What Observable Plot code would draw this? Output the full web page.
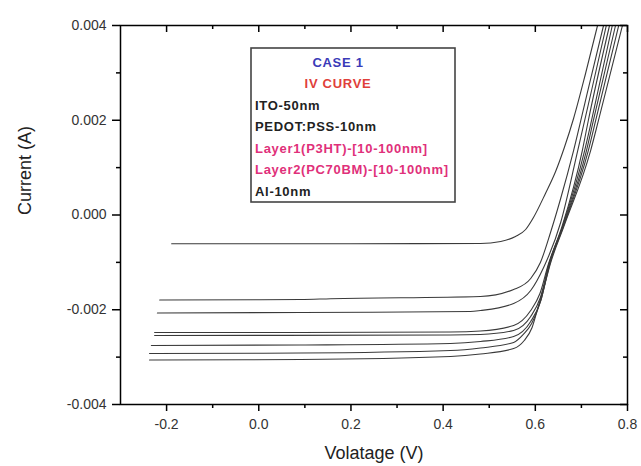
<!DOCTYPE html>
<html><head><meta charset="utf-8">
<script src="https://cdn.jsdelivr.net/npm/d3@7"></script>
<script src="https://cdn.jsdelivr.net/npm/@observablehq/plot@0.6"></script>
<style>body{margin:0;background:#fff;}</style>
</head><body><div id="chart"></div>
<script>
// ---- axis ticks & titles ----
const xTicks = [-0.2, 0, 0.2, 0.4, 0.6, 0.8];
const xMinorTicks = [-0.1, 0.1, 0.3, 0.5, 0.7];
const yTicks = [-0.004, -0.002, 0, 0.002, 0.004];
const yMinorTicks = [-0.003, -0.001, 0.001, 0.003];
const xTitle = "Volatage (V)";
const yTitle = "Current (A)";

// ---- legend box text ----
const legendTitle = ["CASE 1", "IV CURVE"];
const legendTitleColors = ["#3a3ab8", "#e0403a"];
const legendLines = ["ITO-50nm", "PEDOT:PSS-10nm", "Layer1(P3HT)-[10-100nm]", "Layer2(PC70BM)-[10-100nm]", "Al-10nm"];
const legendLineColors = ["#222", "#222", "#e0307a", "#e0307a", "#222"];

// ---- IV curves (voltage V, current A) ----
const vA = [-0.189, 0.199, 0.481, 0.525, 0.557, 0.579, 0.596, 0.622, 0.644, 0.663, 0.683, 0.709, 0.735];
const iA = [-0.000608, -0.000606, -0.000602, -0.000559, -0.000454, -0.000306, -0.000053, 0.000454, 0.000918, 0.001425, 0.002037, 0.002987, 0.004];
const vB = [-0.215, 0.091, 0.156, 0.481, 0.553, 0.590, 0.611, 0.633, 0.655, 0.683, 0.715, 0.748];
const iB = [-0.001794, -0.001784, -0.001767, -0.00172, -0.001573, -0.001341, -0.001003, -0.000369, 0.000348, 0.001361, 0.00267, 0.004];
const vC = [-0.220, 0.091, 0.459, 0.481, 0.553, 0.590, 0.618, 0.655, 0.692, 0.722, 0.754];
const iC = [-0.002069, -0.002058, -0.002037, -0.002016, -0.001868, -0.001594, -0.001108, -0.000158, 0.001361, 0.002628, 0.004];
const vD = [-0.226, 0.091, 0.416, 0.481, 0.553, 0.590, 0.610, 0.628, 0.658, 0.702, 0.715, 0.761];
const iD = [-0.00248, -0.00248, -0.00247, -0.002449, -0.002332, -0.002016, -0.001657, -0.00105, -0.00024, 0.001361, 0.001995, 0.004];
const vE = [-0.226, 0.416, 0.481, 0.553, 0.590, 0.611, 0.629, 0.659, 0.707, 0.722, 0.767];
const iE = [-0.002544, -0.002533, -0.002522, -0.002438, -0.002142, -0.001741, -0.00105, -0.00024, 0.001361, 0.001995, 0.004];
const vF = [-0.233, 0.091, 0.416, 0.481, 0.553, 0.590, 0.612, 0.630, 0.660, 0.711, 0.726, 0.774];
const iF = [-0.002755, -0.002744, -0.002712, -0.00267, -0.002565, -0.002248, -0.001805, -0.00105, -0.00024, 0.001361, 0.001995, 0.004];
const vG = [-0.237, 0.091, 0.416, 0.481, 0.553, 0.574, 0.592, 0.613, 0.631, 0.661, 0.715, 0.731, 0.781];
const iG = [-0.002923, -0.002913, -0.00286, -0.002807, -0.002691, -0.002522, -0.00229, -0.001763, -0.00105, -0.00024, 0.001361, 0.001995, 0.004];
const vH = [-0.237, 0.091, 0.416, 0.481, 0.553, 0.576, 0.593, 0.607, 0.621, 0.632, 0.662, 0.720, 0.737, 0.789];
const iH = [-0.003061, -0.00305, -0.002987, -0.002934, -0.002818, -0.002649, -0.002375, -0.001911, -0.001446, -0.00105, -0.00024, 0.001361, 0.001995, 0.004];

const curves = [[vA, iA], [vB, iB], [vC, iC], [vD, iD], [vE, iE], [vF, iF], [vG, iG], [vH, iH]];
const data = curves.flatMap(([v, c], k) => v.map((vv, j) => ({curve: k, v: vv, i: c[j]})));

const W = 641, H = 466, mL = 120, mR = 14, mT = 25, mB = 62;
const innerW = W - mL - mR, innerH = H - mT - mB;
const font = "'Liberation Sans', Arial, sans-serif";

const chart = Plot.plot({
  width: W, height: H,
  marginLeft: mL, marginRight: mR, marginTop: mT, marginBottom: mB,
  style: {fontFamily: font, background: "white"},
  x: {domain: [-0.3, 0.8]},
  y: {domain: [-0.004, 0.004]},
  marks: [
    Plot.line(data, {x: "v", y: "i", z: "curve", stroke: "#3a3a3a", strokeWidth: 1.1, curve: "monotone-x", clip: true}),
    Plot.frame({stroke: "black", strokeWidth: 1.5}),
    Plot.axisX(xTicks, {tickSize: 7, tickPadding: 8, tickFormat: d => d.toFixed(1), fontSize: 14, fill: "#333", stroke: "black", strokeWidth: 1.5, label: null}),
    Plot.axisX(xMinorTicks, {tickSize: 4, tickFormat: () => "", stroke: "black", strokeWidth: 1.5, label: null}),
    Plot.axisY(yTicks, {tickSize: 8, tickPadding: 6, tickFormat: d => d.toFixed(3), fontSize: 14, fill: "#333", stroke: "black", strokeWidth: 1.5, label: null}),
    Plot.axisY(yMinorTicks, {tickSize: 4, tickFormat: () => "", stroke: "black", strokeWidth: 1.5, label: null}),
    Plot.tickX(xTicks, {x: d => d, insetBottom: innerH - 7, stroke: "black", strokeWidth: 1.5}),
    Plot.tickX(xMinorTicks, {x: d => d, insetBottom: innerH - 4, stroke: "black", strokeWidth: 1.5}),
    Plot.tickY(yTicks, {y: d => d, insetLeft: innerW - 7, stroke: "black", strokeWidth: 1.5}),
    Plot.tickY(yMinorTicks, {y: d => d, insetLeft: innerW - 4, stroke: "black", strokeWidth: 1.5}),
    Plot.text([xTitle], {frameAnchor: "bottom", dy: 54, fontSize: 18, fill: "#222"}),
    Plot.text([yTitle], {frameAnchor: "left", dx: -95, rotate: -90, fontSize: 18, fill: "#222"})
  ]
});
document.getElementById("chart").appendChild(chart);

// legend box (annotation drawn in the same SVG)
const svg = d3.select(chart);
const g = svg.append("g").attr("font-family", font).attr("font-weight", "bold").attr("font-size", 13)
  .attr("letter-spacing", "0.7px");
g.append("rect").attr("x", 251).attr("y", 48).attr("width", 204).attr("height", 154)
  .attr("fill", "white").attr("stroke", "#444").attr("stroke-width", 1.6);
legendTitle.forEach((t, k) => {
  g.append("text").attr("x", 338).attr("y", 62 + k * 21.5).attr("dy", "0.35em")
    .attr("text-anchor", "middle").attr("fill", legendTitleColors[k]).text(t);
});
legendLines.forEach((t, k) => {
  g.append("text").attr("x", 255).attr("y", 105 + k * 21.5).attr("dy", "0.35em")
    .attr("text-anchor", "start").attr("fill", legendLineColors[k]).text(t);
});
</script>
</body></html>
